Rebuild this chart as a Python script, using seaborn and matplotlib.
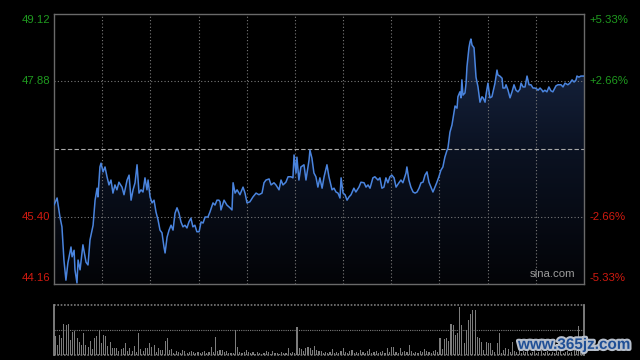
import numpy as np
import matplotlib
matplotlib.use('Agg')
import matplotlib.pyplot as plt
import matplotlib.patheffects as pe
from matplotlib.colors import LinearSegmentedColormap
import seaborn as sns

# --- data ---
PREV_CLOSE = 46.64
Y_LO, Y_HI = 44.16, 49.12
tick_prices = [49.12, 47.88, 45.40, 44.16]
tick_labels = ['49.12', '47.88', '45.40', '44.16']
pct_labels = ['+5.33%', '+2.66%', '-2.66%', '-5.33%']
tick_colors = ['#1f9a1f', '#1f9a1f', '#d01a10', '#d01a10']

# minutes since the open / price
t_min = [
    0.0, 1.4, 2.7, 3.6, 4.5, 5.4, 6.3, 7.7, 8.2, 9.1, 9.5, 10.4, 10.9, 11.8, 13.1,
    14.5, 15.4, 16.3, 17.7, 18.6, 19.5, 19.9, 20.8, 21.3, 22.2, 23.1, 24.0, 24.9,
    25.8, 26.7, 27.6, 28.5, 29.4, 30.8, 31.7, 33.1, 34.0, 34.9, 35.8, 36.7, 37.6,
    38.5, 39.4, 40.3, 41.2, 42.1, 42.6, 43.5, 44.4, 45.3, 46.2, 47.1, 48.0, 48.9,
    49.8, 50.3, 51.2, 52.1, 53.0, 53.9, 54.8, 55.7, 56.6, 57.5, 58.4, 59.3, 60.2,
    61.1, 62.0, 62.9, 63.8, 64.7, 65.7, 66.6, 67.5, 68.4, 69.7, 70.6, 72.0, 72.9,
    73.8, 74.7,
    75.2, 75.6, 77.0, 78.3, 79.7, 80.6, 81.1, 82.0, 82.9, 84.2, 85.6, 86.5, 87.4,
    88.7, 90.1, 91.5, 92.8, 94.2, 95.1, 96.0, 97.4, 98.3, 99.6, 100.5, 101.9,
    102.8, 103.7, 105.0, 106.0, 107.3, 108.2, 108.7, 109.6, 110.0, 110.9, 111.8,
    113.2, 114.1, 115.5, 115.9, 116.8, 117.7, 118.6, 119.5, 120.4, 121.4, 122.3,
    123.6, 124.5, 125.9, 126.8, 127.7, 128.6, 129.5, 130.0, 130.9, 131.8, 132.7,
    133.6, 134.5, 135.8, 136.7, 138.1, 139.0, 140.4, 141.3, 142.2, 143.1, 144.4,
    145.3, 146.7, 147.6, 148.5, 149.4, 150.3, 151.2, 152.1, 153.0, 154.0, 154.9,
    156.2, 157.1, 158.0, 159.4, 159.8, 160.7, 161.6, 162.6, 163.5, 164.4, 165.3,
    166.2, 167.1, 168.0, 168.9, 169.8, 170.7, 171.6, 172.5, 173.4, 174.3, 175.2,
    176.1, 177.0, 178.0,
    178.4, 179.3, 180.2, 181.1, 181.6, 182.5, 182.9, 183.8, 184.3, 184.7, 185.2,
    186.1, 186.6, 187.0, 187.9, 188.4, 188.8, 189.3, 190.2, 190.6, 191.1, 192.0,
    192.9, 193.8, 194.3, 195.2, 195.6, 196.5, 197.4, 198.3, 198.8, 199.7, 200.6,
    201.0, 201.9, 202.9, 203.3, 204.2, 204.7, 205.6, 206.5, 207.4, 208.3, 209.2,
    210.1, 211.0, 211.5, 212.4, 213.3, 214.2, 215.1, 216.0, 216.9, 217.8, 218.7,
    219.2, 220.1, 221.0, 221.4, 222.3, 223.2, 224.1, 225.0, 225.9, 227.3, 228.2,
    229.6, 230.5, 231.4, 232.7, 233.6, 234.6, 235.5, 236.4, 236.8, 237.7, 238.6,
    239.5, 240.0,
]
price = [
    45.61, 45.74, 45.39, 45.21, 44.60, 44.23, 44.55, 44.84, 44.66, 44.78, 44.42,
    44.18, 44.60, 44.42, 44.88, 44.56, 44.51, 44.97, 45.24, 45.70, 45.92, 45.76,
    46.31, 46.38, 46.22, 46.31, 46.13, 45.98, 46.07, 45.83, 45.98, 45.89, 46.03,
    45.94, 45.80, 46.07, 46.16, 45.70, 45.89, 46.02, 46.35, 45.83, 45.89, 45.85,
    46.11, 45.89, 46.07, 45.76, 45.65, 45.70, 45.48, 45.34, 45.15, 45.10, 44.84,
    44.73, 45.02, 45.15, 45.24, 45.15, 45.46, 45.56, 45.46, 45.30, 45.21, 45.24,
    45.19, 45.30, 45.37, 45.21, 45.24, 45.12, 45.12, 45.30, 45.28, 45.39, 45.39,
    45.48, 45.65, 45.61, 45.70, 45.70,
    45.67, 45.52, 45.70, 45.61, 45.56, 45.52, 46.02, 45.83, 45.89, 45.80, 45.94,
    45.83, 45.65, 45.67, 45.76, 45.83, 45.80, 45.83, 46.02, 46.07, 46.09, 45.98,
    46.02, 45.98, 45.89, 46.07, 45.98, 46.03, 46.13, 46.13, 46.11, 46.53, 46.20,
    46.49, 46.07, 46.31, 46.35, 46.07, 46.44, 46.62, 46.47, 46.20, 46.13, 45.94,
    46.11, 45.92, 46.13, 46.35, 46.13, 45.89, 45.92, 45.85, 45.83, 45.74, 46.11,
    45.83, 45.80, 45.70, 45.76, 45.80, 45.92, 45.85, 45.94, 46.03, 46.02, 45.94,
    45.98, 45.92, 46.11, 46.13, 46.07, 46.11, 45.92, 45.94, 46.11, 46.02, 46.13,
    46.16, 46.11, 45.94, 46.02, 46.07, 46.02, 46.20, 46.31, 46.07, 45.94, 45.85,
    45.83, 45.85, 45.92, 46.02, 46.03, 46.16, 46.22, 46.03, 45.94, 45.85, 45.94,
    46.03, 46.13, 46.25, 46.31, 46.49, 46.62,
    46.66, 46.95, 47.08, 47.30, 47.43, 47.39, 47.60, 47.69, 47.58, 47.91, 47.63,
    47.67, 47.85, 48.15, 48.50, 48.61, 48.66, 48.55, 48.50, 48.27, 47.96, 47.78,
    47.50, 47.60, 47.58, 47.50, 47.63, 47.85, 47.58, 47.60, 47.69, 47.85, 48.09,
    48.00, 47.98, 47.94, 47.76, 47.76, 47.82, 47.72, 47.58, 47.69, 47.82, 47.72,
    47.69, 47.74, 47.85, 47.78, 47.78, 47.98, 47.82, 47.82, 47.76, 47.76, 47.74,
    47.72, 47.76, 47.72, 47.69, 47.72, 47.69, 47.78, 47.71, 47.69, 47.80, 47.82,
    47.82, 47.78, 47.85, 47.82, 47.85, 47.91, 47.87, 47.91, 47.98, 47.96, 47.98,
    47.98, 47.98,
]

# volume per minute (relative units, 50 = full panel)
volume = [
    19, 10, 20, 17, 31, 30, 31, 15, 23, 24, 17, 13, 10, 22, 10, 8, 14, 6, 17, 19,
    25, 12, 20, 19, 9, 13, 7, 7, 7, 4, 6, 7, 12, 4, 7, 4, 9, 3, 22, 6,
    4, 7, 7, 12, 8, 10, 3, 7, 5, 5, 14, 17, 5, 6, 2, 4, 3, 2, 5, 4, 2,
    3, 4, 3, 2, 3, 2, 3, 4, 2, 3, 8, 3, 18, 4, 5, 5, 3, 4, 2, 2,
    2, 25, 8, 3, 2, 3, 5, 3, 2, 3, 1, 3, 2, 1, 2, 4, 3, 1, 4, 2,
    2, 1, 3, 2, 2, 7, 2, 3, 2, 28, 7, 6, 4, 7, 8, 7, 5, 9, 5, 4, 4,
    2, 3, 2, 3, 6, 2, 3, 2, 4, 7, 3, 2, 4, 5, 2, 3, 2, 5, 3, 2,
    4, 6, 2, 3, 4, 2, 3, 4, 2, 7, 3, 8, 8, 3, 2, 7, 3, 4, 3, 10,
    4, 2, 3, 2, 4, 3, 6, 4, 3, 2, 4, 5, 3, 17, 6, 16, 17, 14, 31, 30,
    20, 22, 48, 30, 12, 25, 35, 41, 45, 45, 18, 17, 13, 5, 13, 12, 12, 5, 3, 12,
    22, 2, 5, 7, 6, 3,
    13, 4, 3, 5, 2, 4, 3, 5, 2, 3, 4, 2, 3, 5, 2, 3, 4, 2, 3, 2,
    4, 3, 5, 2, 3, 4, 2, 3, 5, 4, 29, 5, 6,
]
minutes = list(range(len(volume)))

# --- style ---
sns.set_theme(style='dark', rc={'axes.facecolor': 'black', 'figure.facecolor': 'black',
                                'axes.edgecolor': '#6a6a6a', 'axes.grid': False})
plt.rcParams['font.family'] = ['Liberation Sans', 'DejaVu Sans']

GRID = '#7a7a7a'
fig = plt.figure(figsize=(6.4, 3.6), dpi=100)
ax = fig.add_axes([54 / 640, 1 - 284 / 360, 530 / 640, 270 / 360])
axv = fig.add_axes([54 / 640, 1 - 355 / 360, 530 / 640, 50 / 360])

# gradient area under the price line
poly = ax.fill_between(t_min, price, Y_LO, color='none', lw=0)
cmap = LinearSegmentedColormap.from_list('fill', ['#030407', '#0b1222', '#1b2b4b'])
grad = np.linspace(0, 1, 256).reshape(-1, 1)
im = ax.imshow(grad, extent=[0, 240, Y_LO, Y_HI], origin='lower', aspect='auto',
               cmap=cmap, zorder=1)
im.set_clip_path(poly.get_paths()[0], transform=ax.transData)

sns.lineplot(x=t_min, y=price, ax=ax, color='#4a84de', lw=1.1, zorder=3)

# grid
for xv in np.linspace(0, 240, 12)[1:-1]:
    ax.axvline(xv, color=GRID, lw=0.8, ls=(0, (1, 2)), zorder=2)
for yv in [47.88, 45.40]:
    ax.axhline(yv, color=GRID, lw=0.8, ls=(0, (1, 2)), zorder=2)
ax.axhline(PREV_CLOSE, color='#a8a8a8', lw=0.8, ls=(0, (4, 2)), zorder=2)

ax.set_xlim(0, 240)
ax.set_ylim(Y_LO, Y_HI)
ax.set_xticks([])
ax.set_yticks([])
ax.set_xlabel('')
ax.set_ylabel('')
for s in ax.spines.values():
    s.set_color('#6a6a6a')
    s.set_linewidth(1.0)

offsets = [-4.3, 0, 0, 4.3]
for val, lab, pct, col, off in zip(tick_prices, tick_labels, pct_labels, tick_colors, offsets):
    ax.annotate(lab, xy=(0, val), xycoords=('axes fraction', 'data'), xytext=(-2.5, off),
                textcoords='offset points', ha='right', va='center', color=col, fontsize=8.2)
    ax.annotate(pct, xy=(1, val), xycoords=('axes fraction', 'data'), xytext=(4, off),
                textcoords='offset points', ha='left', va='center', color=col, fontsize=8.2)

ax.text(0.983, 0.02, 'sina.com', transform=ax.transAxes, ha='right', va='bottom',
        color='#9c9c9c', fontsize=8.2, zorder=4)

# volume panel
sns.barplot(x=minutes, y=volume, ax=axv, native_scale=True, color='#7c7c7c',
            saturation=1, width=0.5, errorbar=None, linewidth=0)
axv.set_xlim(-0.5, 240.5)
axv.set_ylim(0, 50)
axv.axhline(25, color=GRID, lw=0.8, ls=(0, (1, 1)))
axv.axhline(50, color=GRID, lw=1.2, ls=(0, (1, 1)), clip_on=False)
axv.axhline(0, color=GRID, lw=1.2, ls=(0, (1, 1)), clip_on=False)
axv.set_xticks([])
axv.set_yticks([])
axv.set_xlabel('')
axv.set_ylabel('')
axv.spines['top'].set_visible(False)
axv.spines['bottom'].set_visible(False)
for s in ['left', 'right']:
    axv.spines[s].set_color('#8a8a8a')

fig.text(0.985, 0.042, 'www.365jz.com', color='#1f4f96', fontsize=11, weight='bold',
         family='Liberation Sans', ha='right', va='center',
         path_effects=[pe.withStroke(linewidth=3, foreground='#b8c0cc')])

fig.savefig('out.png', dpi=100, facecolor='black')
